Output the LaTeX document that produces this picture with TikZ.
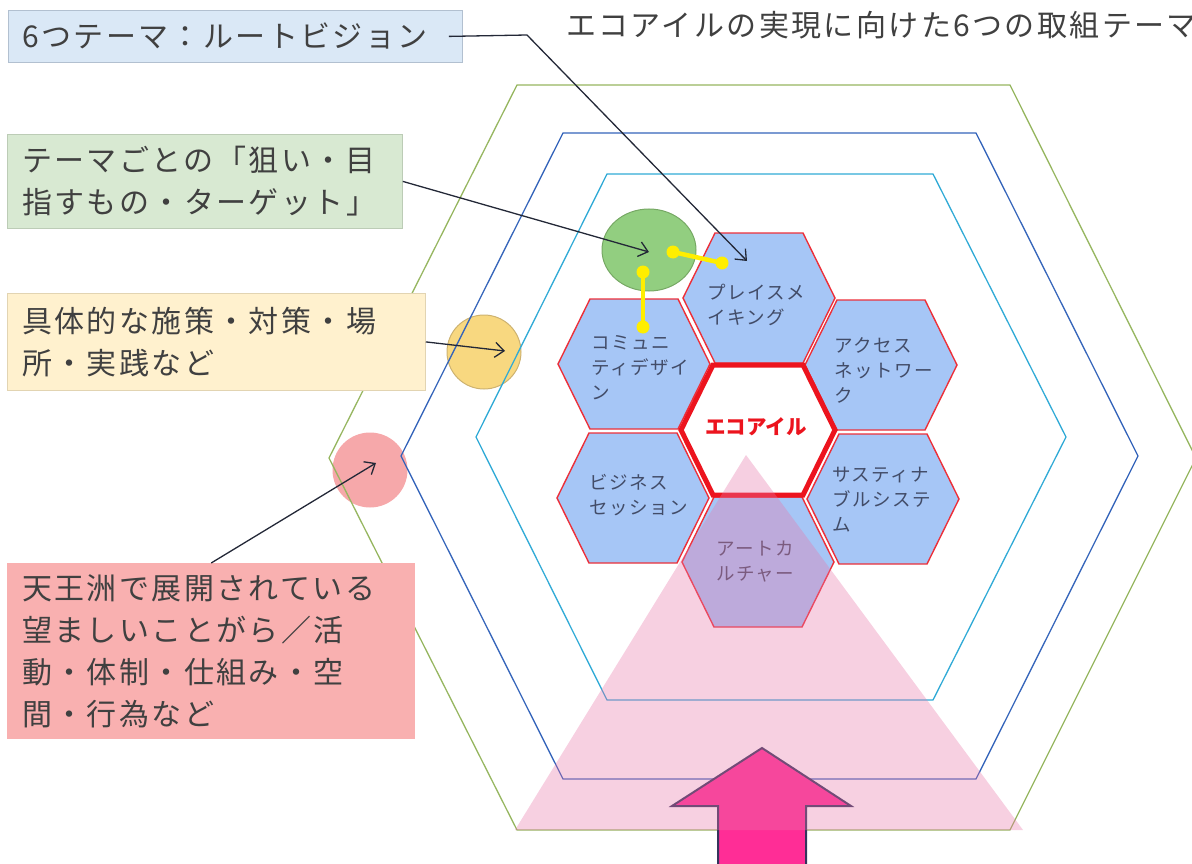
\documentclass[tikz,border=0pt]{standalone}
\usepackage{fontspec}
\newfontfamily\jp[LetterSpace=8]{Noto Sans CJK JP}
\newfontfamily\jpb{Noto Sans CJK JP}
\usetikzlibrary{arrows.meta,calc,shapes.geometric}
\definecolor{txt}{RGB}{64,64,64}
\definecolor{hextxt}{RGB}{66,76,104}
\definecolor{hexfill}{RGB}{166,198,246}
\definecolor{hexred}{RGB}{236,48,58}
\definecolor{ecored}{RGB}{236,20,30}
\definecolor{hgreen}{RGB}{150,182,96}
\definecolor{hblue}{RGB}{52,100,186}
\definecolor{hcyan}{RGB}{48,170,214}
\definecolor{cgreen}{RGB}{146,206,128}
\definecolor{cgreenb}{RGB}{118,168,100}
\definecolor{cyellow}{RGB}{248,216,128}
\definecolor{cyellowb}{RGB}{205,178,112}
\definecolor{cpink}{RGB}{246,168,170}
\definecolor{bblue}{RGB}{218,232,246}
\definecolor{bbluel}{RGB}{178,192,208}
\definecolor{bgreen}{RGB}{216,233,210}
\definecolor{bgreenl}{RGB}{188,204,182}
\definecolor{byellow}{RGB}{255,241,206}
\definecolor{byellowl}{RGB}{226,212,178}
\definecolor{bpink}{RGB}{249,176,176}
\definecolor{linecol}{RGB}{35,40,55}
\definecolor{yel}{RGB}{255,238,0}
\definecolor{arrowpink}{RGB}{255,45,150}
\definecolor{arrowline}{RGB}{52,52,92}
\definecolor{tripink}{RGB}{232,120,170}
\newcommand\boxfont{\jp\fontsize{30}{42}\selectfont}
\newcommand\hexfont{\jp\fontsize{18.5}{25}\selectfont}
\begin{document}
\begin{tikzpicture}[x=1pt,y=-1pt,
  infobox/.style={rectangle, anchor=north west, inner sep=0pt},
  boxtext/.style={anchor=west, align=left, inner sep=0pt, text=txt, font=\boxfont},
  hextext/.style={anchor=west, align=left, inner sep=0pt, text=hextxt, font=\hexfont},
  honey/.style={fill=hexfill, draw=hexred, line width=1.4pt, line join=miter},
  callout/.style={draw=linecol, line width=1.3pt, -{Straight Barb[length=9pt,width=15pt,line width=1.3pt]}},
  yline/.style={draw=yel, line width=4.5pt},
  ydot/.style={circle, fill=yel, inner sep=0pt, minimum size=13pt},
]
\useasboundingbox (0,0) rectangle (1192,864);
\clip (0,0) rectangle (1192,864);

% circles
\node[ellipse, fill=cgreen, draw=cgreenb, line width=1pt, minimum width=94pt, minimum height=82pt, inner sep=0pt] (gc) at (649,250) {};
\node[circle, fill=cyellow, draw=cyellowb, line width=1pt, minimum size=74pt, inner sep=0pt] (yc) at (484,352) {};
\node[circle, fill=cpink, minimum size=75pt, inner sep=0pt] (pc) at (370,470) {};

% concentric hexagons
\draw[hgreen, line width=1.3pt] (517,85) -- (1010,85) -- (1196,458) -- (1010,830) -- (517,830) -- (329,458) -- cycle;
\draw[hblue, line width=1.3pt] (563,133) -- (976,133) -- (1138,456) -- (976,779) -- (563,779) -- (401,456) -- cycle;
\draw[hcyan, line width=1.3pt] (607,174) -- (933,174) -- (1066,437) -- (933,700) -- (607,700) -- (476,437) -- cycle;

% honeycomb
\foreach \cx/\cy in {759/298, 634/364, 881/365, 633/498, 883/499, 758/562}{
  \draw[honey] (\cx,\cy) ++(-44,-65) -- ++(88,0) -- ++(32,65) -- ++(-32,65) -- ++(-88,0) -- ++(-32,-65) -- cycle;
}
\draw[fill=white, draw=ecored, line width=5pt, line join=miter] (758,430) ++(-45,-65) -- ++(90,0) -- ++(32,65) -- ++(-32,65) -- ++(-90,0) -- ++(-32,-65) -- cycle;

\node[hextext] (tP) at (707,304.5) {プレイスメ\\イキング};
\node[hextext] (tC) at (591,368) {コミュニ\\ティデザイ\\ン};
\node[hextext] (tA) at (834,370) {アクセス\\ネットワー\\ク};
\node[hextext] (tB) at (589,495) {ビジネス\\セッション};
\node[hextext] (tS) at (832,500) {サスティナ\\ブルシステ\\ム};
\node[hextext] (tR) at (716,562) {アートカ\\ルチャー};
\node[inner sep=0pt, text=ecored, font=\jpb\bfseries\fontsize{20.5}{24}\selectfont] (tE) at (756,427) {エコアイル};

% yellow connectors
\coordinate (y1a) at (673,252);
\coordinate (y1b) at (722,263);
\coordinate (y2a) at (643,272);
\coordinate (y2b) at (643,327);
\draw[yline] (y1a) -- (y1b);
\draw[yline] (y2a) -- (y2b);
\node[ydot] (d1) at (y1a) {};
\node[ydot] (d2) at (y1b) {};
\node[ydot] (d3) at (y2a) {};
\node[ydot] (d4) at (y2b) {};

% boxes
\node[infobox, fill=bblue, draw=bbluel, line width=0.8pt, minimum width=454pt, minimum height=52pt] (b1) at (8,10) {};
\node[boxtext] (b1t) at ($(b1.west)+(14,0)$) {6つテーマ：ルートビジョン};
\node[infobox, fill=bgreen, draw=bgreenl, line width=0.8pt, minimum width=395pt, minimum height=94pt] (b2) at (7,134) {};
\node[boxtext] (b2t) at ($(b2.west)+(15,0)$) {テーマごとの「狙い・目\\指すもの・ターゲット」};
\node[infobox, fill=byellow, draw=byellowl, line width=0.8pt, minimum width=418pt, minimum height=97pt] (b3) at (7,293) {};
\node[boxtext] (b3t) at ($(b3.west)+(15,0)$) {具体的な施策・対策・場\\所・実践など};
\node[infobox, fill=bpink, minimum width=408pt, minimum height=176pt] (b4) at (7,563) {};
\node[boxtext] (b4t) at ($(b4.west)+(15,0)$) {天王洲で展開されている\\望ましいことがら／活\\動・体制・仕組み・空\\間・行為など};

% title
\node[anchor=west, inner sep=0pt, text=txt, font=\jp\fontsize{30}{33}\selectfont] (title) at (566,25) {エコアイルの実現に向けた6つの取組テーマ};

% callout arrows
\coordinate (bend1) at (527,35);
\coordinate (tip1) at (747,261);
\coordinate (tip2) at (649,252);
\coordinate (tip3) at (505,351);
\coordinate (tip4) at (376,463);
\draw[callout] ($(b1.east)+(-14,0)$) -- (bend1) -- (tip1);
\draw[callout] (b2.east) -- (tip2);
\draw[callout] (b3.east) -- (tip3);
\draw[callout] (b4.north) -- (tip4);

% big arrow
\draw[fill=arrowpink, draw=arrowline, line width=2pt, line join=miter]
  (762,748) -- (851,806) -- (806,806) -- (806,880) -- (718,880) -- (718,806) -- (672,806) -- cycle;

% translucent triangle
\fill[tripink, opacity=0.35] (746,455) -- (1023,830) -- (515,830) -- cycle;
\end{tikzpicture}
\end{document}
